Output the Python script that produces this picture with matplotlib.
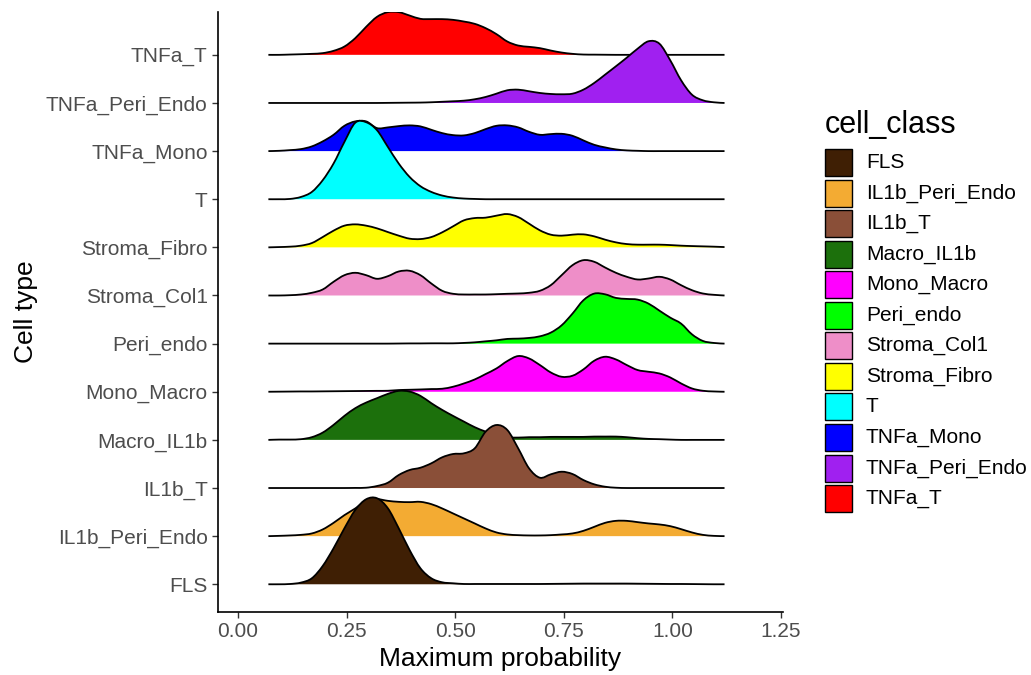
import matplotlib
matplotlib.use("Agg")
import matplotlib.pyplot as plt
from matplotlib.patches import PathPatch, Rectangle
from matplotlib.path import Path
import numpy as np

plt.rcParams['font.family'] = ['Liberation Sans', 'DejaVu Sans']

# cell types, bottom row first
cell_types = ['FLS', 'IL1b_Peri_Endo', 'IL1b_T', 'Macro_IL1b', 'Mono_Macro', 'Peri_endo',
              'Stroma_Col1', 'Stroma_Fibro', 'T', 'TNFa_Mono', 'TNFa_Peri_Endo', 'TNFa_T']
colors = ['#3f1f04', '#f3ab33', '#8a4f38', '#1c700c', '#ff00ff', '#00ff00',
          '#ee8ec8', '#ffff00', '#00ffff', '#0000ff', '#a020f0', '#ff0000']

# maximum probability grid the ridges are read on
max_prob = [0.07, 0.095, 0.12, 0.145, 0.17, 0.195, 0.22, 0.245, 0.27, 0.295, 0.32,
            0.345, 0.37, 0.395, 0.42, 0.445, 0.47, 0.495, 0.52, 0.545, 0.57, 0.595,
            0.62, 0.645, 0.67, 0.695, 0.72, 0.745, 0.77, 0.795, 0.82, 0.845, 0.87,
            0.895, 0.92, 0.945, 0.97, 0.995, 1.02, 1.045, 1.07, 1.095, 1.12]

# ridge heights (scaled density)
fls = [0, 0, 0.3, 1.7, 6, 18.3, 36, 56, 74.3, 85, 86, 76, 56, 34.3, 16, 6, 2, 1, 0.3, 0.3, 0.3,
       0.3, 0.3, 0.3, 0.3, 0.3, 0.4, 0.5, 0.6, 0.7, 0.7, 0.7, 0.7, 0.7, 0.6, 0.5, 0.4, 0.3,
       0.3, 0.2, 0.1, 0, 0]
il1b_peri_endo = [0, 0.3, 0.7, 1.3, 2.7, 6.7, 13.3, 21, 27.7, 35.3, 37, 35.3, 34.3, 34, 34.3,
                  32, 27.7, 22.7, 17.7, 12.7, 7.7, 3.7, 1.7, 1, 0.7, 0.7, 1, 1.7, 2.7, 5.3,
                  9.3, 13.3, 15.3, 15.3, 14, 12.7, 11.7, 10, 7, 3.7, 1.3, 0.3, 0]
il1b_t = [0, 0, 0, 0, 0, 0, 0, 0, 0.1, 0.3, 2, 5.3, 13, 18, 20.3, 24.7, 30.7, 34, 34.7, 39.7,
          56.3, 63, 58, 39.7, 19.7, 10.3, 13.7, 16.3, 14, 8, 3.7, 1.3, 0.3, 0, 0, 0, 0, 0, 0,
          0, 0, 0, 0]
macro_il1b = [0, 0.3, 0.3, 0.7, 2.7, 7.3, 15, 24, 31.7, 37.3, 41.7, 46, 49, 48.3, 44, 36.7, 30,
              24, 18.3, 12.7, 8.3, 5, 2.7, 2.3, 2.7, 2.7, 3, 3, 3, 3, 3.3, 3.3, 3.3, 2.7, 1.7,
              1, 0.7, 0.3, 0, 0, 0, 0, 0]
mono_macro = [0, 0.1, 0.2, 0.3, 0.3, 0.4, 0.5, 0.6, 0.7, 0.8, 0.9, 1, 1.7, 2, 2.3, 2.7, 3, 5,
              8.3, 12.3, 17.7, 23.3, 30.7, 35.7, 33.3, 26.7, 19.3, 15, 16, 22.3, 31, 35, 32.3,
              26.7, 21.7, 20, 18.3, 14.3, 8.3, 3.3, 1, 0.3, 0]
peri_endo = [0, 0, 0, 0, 0, 0, 0, 0, 0, 0, 0, 0, 0.1, 0.2, 0.2, 0.3, 0.3, 0.3, 0.7, 1.3, 2.3,
             3.3, 4.7, 5, 5.7, 7.3, 11, 18.3, 30, 43.3, 50, 49.3, 45.7, 44.7, 44, 40, 33, 26,
             20, 9.3, 2.7, 0.7, 0]
stroma_col1 = [0, 0, 0.3, 1, 2.7, 6, 13.7, 20.3, 22.7, 20.3, 16.7, 19.3, 24, 24.7, 20.3, 12,
               4.7, 1.7, 1, 1, 1, 1.3, 1.7, 2, 2.7, 4.7, 10.3, 20.3, 30.3, 35.3, 33.7, 28,
               22.7, 18.7, 16, 17, 18.7, 16, 10.3, 5.3, 2, 0.7, 0]
stroma_fibro = [0, 0.3, 0.7, 1.7, 4.3, 10.3, 16.7, 21.7, 23, 21.7, 19, 15.3, 11.7, 8.7, 8.3,
                10.3, 15, 21, 27, 29.3, 29.7, 31.7, 33.3, 30.3, 23.7, 17, 12.7, 11.7, 12.7,
                13, 11, 7.7, 5, 3.3, 2.7, 2.7, 2.7, 2.3, 1.7, 1.3, 1, 0.7, 0.3]
t_cells = [0, 0, 0.3, 2.3, 7.3, 19, 35.7, 57.3, 76.5, 77, 69, 52.3, 35.7, 22.3, 13, 7.3, 3.7,
           1.7, 0.7, 0.3, 0, 0, 0, 0, 0, 0, 0, 0, 0, 0, 0, 0, 0, 0, 0, 0, 0, 0, 0, 0, 0, 0, 0]
tnfa_mono = [0, 0.3, 1, 2, 4.7, 9.7, 16.3, 25.3, 29.7, 29.7, 23, 23.7, 25, 25.7, 24.7, 21.3,
             18, 16, 15.7, 18, 22, 25.3, 25.7, 23.7, 19.3, 16.3, 17, 17.3, 15.3, 10.7, 6.3,
             3.7, 1.7, 0.7, 0.3, 0, 0, 0, 0, 0, 0, 0, 0]
tnfa_peri_endo = [0, 0, 0, 0, 0, 0, 0, 0, 0, 0, 0, 0.1, 0.2, 0.3, 0.4, 0.7, 1.2, 1.7, 2.3, 3.7,
                  6, 9.3, 12.7, 13.3, 11.7, 10, 9, 8.7, 9.3, 13.3, 20, 28.3, 36.7, 45.3, 54.3,
                  61.7, 59.3, 42.7, 22.7, 8.3, 2.7, 0.7, 0]
tnfa_t = [0, 0, 0.3, 0.6, 1, 1.7, 4, 8.3, 16.7, 28, 38, 42.7, 42.7, 39.3, 36, 35.7, 35.7, 35,
          33.3, 31, 26.7, 20.7, 13.3, 9.3, 8, 6.7, 4.3, 2.3, 1, 0.3, 0.2, 0.1, 0, 0, 0, 0, 0,
          0, 0, 0, 0, 0, 0]

ridges = [fls, il1b_peri_endo, il1b_t, macro_il1b, mono_macro, peri_endo,
          stroma_col1, stroma_fibro, t_cells, tnfa_mono, tnfa_peri_endo, tnfa_t]
scale = 1 / 48.12  # height -> row units


def smooth_path(xs, ys):
    # Catmull-Rom spline drawn as cubic bezier segments through the read points
    verts = [(xs[0], ys[0])]
    codes = [Path.MOVETO]
    n = len(xs)
    for k in range(n - 1):
        p0 = max(k - 1, 0)
        p3 = min(k + 2, n - 1)
        c1 = (xs[k] + (xs[k + 1] - xs[p0]) / 6, ys[k] + (ys[k + 1] - ys[p0]) / 6)
        c2 = (xs[k + 1] - (xs[p3] - xs[k]) / 6, ys[k + 1] - (ys[p3] - ys[k]) / 6)
        verts += [c1, c2, (xs[k + 1], ys[k + 1])]
        codes += [Path.CURVE4] * 3
    return verts, codes


fig = plt.figure(figsize=(10.31, 6.75), dpi=100)
ax = fig.add_axes([218 / 1031, 1 - 612 / 675, (783 - 218) / 1031, 600 / 675])

x = list(max_prob)
# top rows first so lower ridges overlap them
for i in range(len(cell_types) - 1, -1, -1):
    y = [i + v * scale for v in ridges[i]]
    verts, codes = smooth_path(x, y)
    z = 2 * (len(cell_types) - i)
    fill = Path(verts + [(x[-1], i), (x[0], i), (x[0], i)],
                codes + [Path.LINETO, Path.LINETO, Path.CLOSEPOLY])
    ax.add_patch(PathPatch(fill, facecolor=colors[i], lw=0, zorder=z))
    ax.add_patch(PathPatch(Path(verts, codes), fill=False, edgecolor='black', lw=1.3,
                           zorder=z + 1, capstyle='butt'))

ax.set_xlim(-0.046, 1.2546)
ax.set_ylim(-0.576, 11.89)
ax.set_xticks([0, 0.25, 0.5, 0.75, 1.0, 1.25])
ax.set_xticklabels(['0.00', '0.25', '0.50', '0.75', '1.00', '1.25'])
ax.set_yticks(range(len(cell_types)))
ax.set_yticklabels(cell_types)
ax.tick_params(labelsize=15, labelcolor='#4d4d4d', color='#333333', length=4, width=1)
for s in ['top', 'right']:
    ax.spines[s].set_visible(False)
for s in ['left', 'bottom']:
    ax.spines[s].set_linewidth(1.2)
ax.set_xlabel('Maximum probability', fontsize=19, labelpad=4)
ax.set_ylabel('Cell type', fontsize=19, labelpad=6)

# legend, drawn in figure pixels
W, H = 1031, 675
fig.text(825 / W, 1 - 125 / H, 'cell_class', fontsize=22, va='center', ha='left')
for k, (name, c) in enumerate(zip(cell_types, colors)):
    top = 149 + 30.55 * k
    fig.add_artist(Rectangle((825 / W, 1 - (top + 27) / H), 27 / W, 27 / H,
                             facecolor=c, edgecolor='black', lw=1, transform=fig.transFigure))
    fig.text(866 / W, 1 - (top + 13.5) / H, name, fontsize=15, va='center', ha='left')

fig.savefig('out.png', dpi=100)
